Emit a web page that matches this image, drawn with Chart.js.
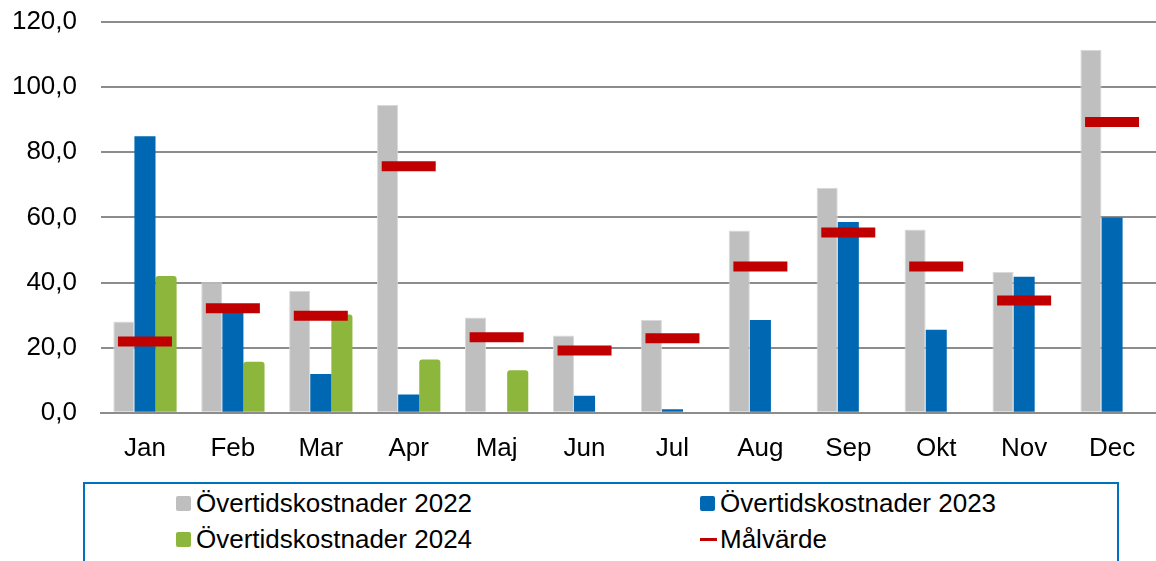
<!DOCTYPE html>
<html>
<head>
<meta charset="utf-8">
<script src="https://cdn.jsdelivr.net/npm/chart.js@4/dist/chart.umd.min.js"></script>
<style>
  html, body { margin: 0; padding: 0; background: #fff; }
  #wrap { position: relative; width: 1156px; height: 561px; overflow: hidden; font-family: "Liberation Sans", Arial, sans-serif; }
  #chartBox { position: absolute; left: 0; top: 0; width: 1156px; height: 470px; }
  #legend { position: absolute; left: 83px; top: 482px; width: 1032px; height: 120px; border: 2px solid #0070C0; }
  .item { position: absolute; font-size: 26px; color: #000; line-height: 30px; white-space: nowrap; }
  .sw { position: absolute; }
</style>
</head>
<body>
<div id="wrap">
  <div id="chartBox"><canvas id="chart"></canvas></div>
  <div id="legend"></div>
</div>
<script>
const months = ['Jan','Feb','Mar','Apr','Maj','Jun','Jul','Aug','Sep','Okt','Nov','Dec'];
const cost2022 = [28.0, 40.1, 37.5, 94.5, 29.3, 23.7, 28.5, 56.0, 69.1, 56.3, 43.2, 111.5];
const cost2023 = [84.9, 31.0, 11.9, 5.6, null, 5.2, 1.1, 28.5, 58.6, 25.5, 41.8, 60.0];
const cost2024 = [42.0, 15.7, 30.2, 16.4, 13.1, null, null, null, null, null, null, null];
const target = [21.9, 32.1, 29.8, 75.7, 23.2, 19.1, 22.9, 44.9, 55.4, 44.9, 34.5, 89.3];
const yTicks = [0, 20, 40, 60, 80, 100, 120];

const seriesNames = ['Övertidskostnader 2022', 'Övertidskostnader 2023', 'Övertidskostnader 2024', 'Målvärde'];
const colors = ['#BFBFBF', '#0068B3', '#8DB63C', '#C00000'];

const font = { family: '"Liberation Sans", Arial, sans-serif', size: 26 };

new Chart(document.getElementById('chart'), {
  type: 'bar',
  data: {
    labels: months,
    datasets: [
      { type: 'line', label: seriesNames[3], data: target, showLine: false,
        pointStyle: 'line', pointRadius: 27, pointHoverRadius: 27,
        borderColor: colors[3], pointBorderWidth: 10, pointHoverBorderWidth: 10, order: 0 },
      { label: seriesNames[0], data: cost2022, backgroundColor: colors[0],
        borderColor: '#D9D9D9', borderWidth: 1, order: 1 },
      { label: seriesNames[1], data: cost2023, backgroundColor: colors[1], order: 1 },
      { label: seriesNames[2], data: cost2024, backgroundColor: colors[2],
        borderRadius: { topLeft: 3, topRight: 3 }, order: 1 }
    ]
  },
  options: {
    responsive: true,
    maintainAspectRatio: false,
    animation: false,
    categoryPercentage: 0.72,
    barPercentage: 1.0,
    // the wide target dashes would otherwise add auto padding around the plot
    layout: { autoPadding: false, padding: { top: 22, right: 0, bottom: 4, left: 0 } },
    plugins: { legend: { display: false }, tooltip: { enabled: false } },
    scales: {
      x: {
        // invisible tick marks give the gap under the axis
        grid: { color: 'transparent', tickColor: 'transparent', drawTicks: true, tickLength: 18 },
        border: { color: '#8C8C8C', width: 2 },
        ticks: { color: '#000', font: font, padding: 2 }
      },
      y: {
        min: 0, max: 120,
        afterBuildTicks: scale => { scale.ticks = yTicks.map(v => ({ value: v })); },
        afterFit: scale => { scale.width = 101; },
        grid: { color: '#8C8C8C', lineWidth: 2, tickColor: 'transparent', drawTicks: true, tickLength: 22 },
        border: { display: false },
        ticks: { color: '#000', font: font, padding: 2,
          callback: v => v.toFixed(1).replace('.', ',') }
      }
    }
  }
});

// legend in two columns, like the original
const legend = document.getElementById('legend');
const cols = [91, 615];
const rows = [4, 40];
seriesNames.forEach((name, i) => {
  const col = cols[i % 2], row = rows[Math.floor(i / 2)];
  const sw = document.createElement('div');
  sw.className = 'sw';
  if (i === 3) {
    sw.style.left = col + 'px';
    sw.style.top = (row + 14) + 'px';
    sw.style.width = '17px';
    sw.style.height = '3px';
  } else {
    sw.style.left = col + 'px';
    sw.style.top = (row + 8) + 'px';
    sw.style.width = '15px';
    sw.style.height = '15px';
    sw.style.borderRadius = '2px';
  }
  sw.style.background = colors[i];
  legend.appendChild(sw);
  const t = document.createElement('div');
  t.className = 'item';
  t.style.left = (col + 20) + 'px';
  t.style.top = row + 'px';
  t.textContent = name;
  legend.appendChild(t);
});
</script>
</body>
</html>
